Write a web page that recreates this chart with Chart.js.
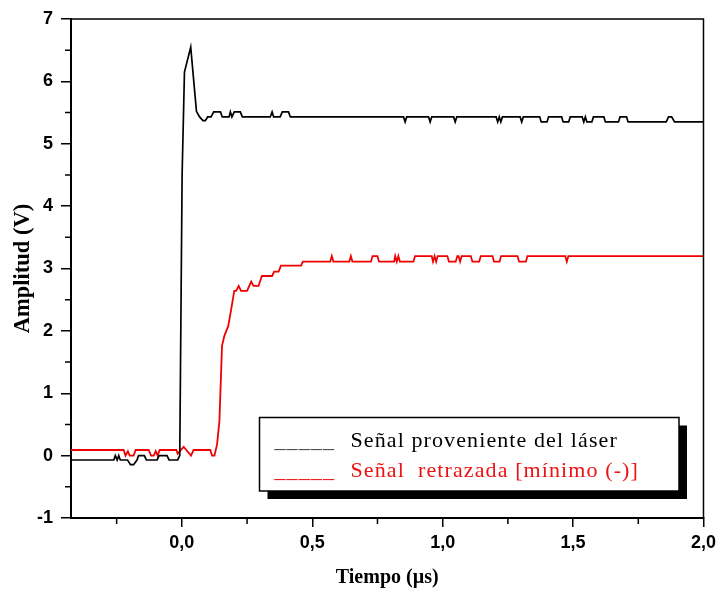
<!DOCTYPE html>
<html>
<head>
<meta charset="utf-8">
<script src="https://cdn.jsdelivr.net/npm/chart.js@4.4.1/dist/chart.umd.min.js"></script>
<style>
  html, body { margin: 0; padding: 0; background: #fff; }
</style>
</head>
<body>
<canvas id="myChart" width="721" height="593"></canvas>
<script>
// time (µs) and amplitude (V)
const blackT = [-0.425, -0.261, -0.255, -0.248, -0.242, -0.236, -0.208, -0.197, -0.185, -0.172, -0.166, -0.144, -0.136,
  -0.095, -0.087, -0.057, -0.049, -0.016, -0.008, 0.001, 0.010, 0.034, 0.056, 0.068, 0.081, 0.090, 0.099, 0.112, 0.122,
  0.148, 0.155, 0.181, 0.186, 0.192, 0.201, 0.224, 0.232, 0.339, 0.346, 0.352, 0.377, 0.385, 0.409, 0.416,
  0.850, 0.856, 0.862, 0.946, 0.952, 0.958, 1.042, 1.048, 1.054, 1.205, 1.211, 1.217, 1.223, 1.229,
  1.297, 1.303, 1.309, 1.372, 1.378, 1.400, 1.406, 1.456, 1.462, 1.483, 1.489,
  1.535, 1.541, 1.547, 1.553, 1.572, 1.578, 1.618, 1.624, 1.674, 1.680, 1.705, 1.711,
  1.857, 1.866, 1.878, 1.889, 2.0];
const blackV = [-0.07, -0.07, 0.0, -0.07, 0.0, -0.07, -0.07, -0.145, -0.145, -0.07, 0.0, 0.0, -0.07,
  -0.07, 0.0, 0.0, -0.07, -0.07, 0.0, 4.5, 6.15, 6.55, 5.52, 5.43, 5.37, 5.37, 5.43, 5.43, 5.51,
  5.51, 5.43, 5.43, 5.51, 5.43, 5.51, 5.51, 5.43, 5.43, 5.51, 5.43, 5.43, 5.51, 5.51, 5.43,
  5.43, 5.35, 5.43, 5.43, 5.35, 5.43, 5.43, 5.35, 5.43, 5.43, 5.35, 5.43, 5.35, 5.43,
  5.43, 5.35, 5.43, 5.43, 5.35, 5.35, 5.43, 5.43, 5.35, 5.35, 5.43,
  5.43, 5.35, 5.43, 5.35, 5.35, 5.43, 5.43, 5.35, 5.35, 5.43, 5.43, 5.35,
  5.35, 5.43, 5.43, 5.35, 5.35];

const redT = [-0.425, -0.223, -0.216, -0.207, -0.200, -0.185, -0.177, -0.127, -0.118, -0.108, -0.100, -0.093, -0.085,
  -0.021, -0.016, -0.006, 0.007, 0.017, 0.035, 0.045, 0.109, 0.116, 0.125, 0.135, 0.144, 0.154, 0.163, 0.178,
  0.189, 0.201, 0.208, 0.218, 0.227, 0.250, 0.266, 0.275, 0.294, 0.307, 0.346, 0.354, 0.371, 0.380, 0.457, 0.464,
  0.569, 0.575, 0.581, 0.642, 0.648, 0.654, 0.725, 0.731, 0.750, 0.756,
  0.814, 0.818, 0.824, 0.830, 0.836, 0.888, 0.894, 0.958, 0.963, 0.969, 0.975, 0.981,
  1.018, 1.024, 1.050, 1.056, 1.061, 1.067, 1.073, 1.108, 1.114, 1.140, 1.146,
  1.191, 1.197, 1.218, 1.224, 1.287, 1.293, 1.319, 1.325, 1.470, 1.476, 1.482, 2.0];
const redV = [0.09, 0.09, 0.0, 0.07, 0.0, 0.0, 0.09, 0.09, 0.0, 0.0, 0.07, 0.0, 0.09,
  0.09, 0.03, 0.08, 0.14, 0.09, 0.0, 0.09, 0.09, 0.0, 0.0, 0.18, 0.55, 1.76, 1.92, 2.08,
  2.34, 2.64, 2.64, 2.72, 2.64, 2.64, 2.79, 2.72, 2.72, 2.88, 2.88, 2.95, 2.95, 3.045, 3.045, 3.11,
  3.11, 3.20, 3.11, 3.11, 3.20, 3.11, 3.11, 3.20, 3.20, 3.11,
  3.11, 3.20, 3.11, 3.20, 3.11, 3.11, 3.20, 3.20, 3.11, 3.20, 3.11, 3.20,
  3.20, 3.11, 3.11, 3.20, 3.20, 3.11, 3.20, 3.20, 3.11, 3.11, 3.20,
  3.20, 3.11, 3.11, 3.20, 3.20, 3.11, 3.11, 3.20, 3.20, 3.11, 3.20, 3.20];

const xMajor = [0, 0.5, 1.0, 1.5, 2.0];
const xMinor = [-0.25, 0.25, 0.75, 1.25, 1.75];
const yMinor = [-0.5, 0.5, 1.5, 2.5, 3.5, 4.5, 5.5, 6.5];
const legendLabels = ['Señal proveniente del láser', 'Señal  retrazada [mínimo (-)]'];
const legendColors = ['#000000', '#ee1111'];

const frameAndLegend = {
  id: 'frameAndLegend',
  afterDraw(chart) {
    const {ctx, chartArea: a, scales: {x, y}} = chart;
    ctx.save();
    ctx.strokeStyle = '#000';
    ctx.lineWidth = 1.5;
    ctx.beginPath();
    ctx.moveTo(a.left, a.top);
    ctx.lineTo(a.right, a.top);
    ctx.lineTo(a.right, a.bottom);
    ctx.stroke();

    // minor ticks
    ctx.beginPath();
    xMinor.forEach(v => {
      const px = x.getPixelForValue(v);
      ctx.moveTo(px, a.bottom);
      ctx.lineTo(px, a.bottom + 6);
    });
    yMinor.forEach(v => {
      const py = y.getPixelForValue(v);
      ctx.moveTo(a.left, py);
      ctx.lineTo(a.left - 6, py);
    });
    ctx.stroke();

    // legend box with shadow
    const bx = 259.5, by = 417.5, bw = 419.5, bh = 73.5;
    ctx.fillStyle = '#000';
    ctx.fillRect(bx + 8, by + 8, bw, bh);
    ctx.fillStyle = '#fff';
    ctx.fillRect(bx, by, bw, bh);
    ctx.lineWidth = 1.5;
    ctx.strokeRect(bx, by, bw, bh);

    ctx.font = '22px "Liberation Serif", "Times New Roman", serif';
    ctx.letterSpacing = '1.1px';
    ctx.textBaseline = 'alphabetic';
    legendLabels.forEach((t, i) => {
      const ty = by + 29.5 + i * 30;
      ctx.fillStyle = i === 0 ? '#444' : legendColors[i];
      ctx.fillText('_____', bx + 15, ty);
      ctx.fillStyle = legendColors[i];
      ctx.fillText(t, bx + 91, ty);
    });
    ctx.restore();
  }
};

const chart_el = document.getElementById('myChart');

new Chart(chart_el, {
  type: 'line',
  data: {
    datasets: [{
      label: legendLabels[0],
      data: blackT.map((t, i) => ({x: t, y: blackV[i]})),
      borderColor: '#000',
      borderWidth: 1.7,
      pointRadius: 0,
    }, {
      label: legendLabels[1],
      data: redT.map((t, i) => ({x: t, y: redV[i]})),
      borderColor: 'rgb(240,0,0)',
      borderWidth: 1.8,
      pointRadius: 0,
    }]
  },
  options: {
    responsive: false,
    animation: false,
    tension: 0,
    layout: {
      padding: {left: 0, top: 19, right: 17.5, bottom: 0}
    },
    scales: {
      x: {
        type: 'linear',
        min: -0.425,
        max: 2.0,
        afterBuildTicks: s => { s.ticks = xMajor.map(v => ({value: v})); },
        afterFit: s => { s.height = 75; },
        ticks: {
          color: '#000',
          padding: 5,
          maxRotation: 0,
          font: {family: '"Liberation Sans", Arial, sans-serif', size: 18, weight: 'bold'},
          callback: v => v.toFixed(1).replace('.', ',')
        },
        grid: {drawOnChartArea: false, tickLength: 9, color: '#000', lineWidth: 1.5},
        border: {color: '#000', width: 2},
        title: {
          display: true,
          text: 'Tiempo (\u00b5s)',
          color: '#000',
          padding: {top: 0, bottom: 3},
          font: {family: '"Liberation Serif", "Times New Roman", serif', size: 20, weight: 'bold'}
        }
      },
      y: {
        min: -1,
        max: 7,
        afterFit: s => { s.width = 71; },
        ticks: {
          stepSize: 1,
          color: '#000',
          padding: 8,
          font: {family: '"Liberation Sans", Arial, sans-serif', size: 18, weight: 'bold'}
        },
        grid: {drawOnChartArea: false, tickLength: 10, color: '#000', lineWidth: 1.5},
        border: {color: '#000', width: 2},
        title: {
          display: true,
          text: 'Amplitud (V)',
          color: '#000',
          padding: {top: 10, bottom: 0},
          font: {family: '"Liberation Serif", "Times New Roman", serif', size: 22.5, weight: 'bold'}
        }
      }
    },
    plugins: {
      legend: {display: false},
      tooltip: {enabled: false}
    }
  },
  plugins: [frameAndLegend]
});
</script>
</body>
</html>
